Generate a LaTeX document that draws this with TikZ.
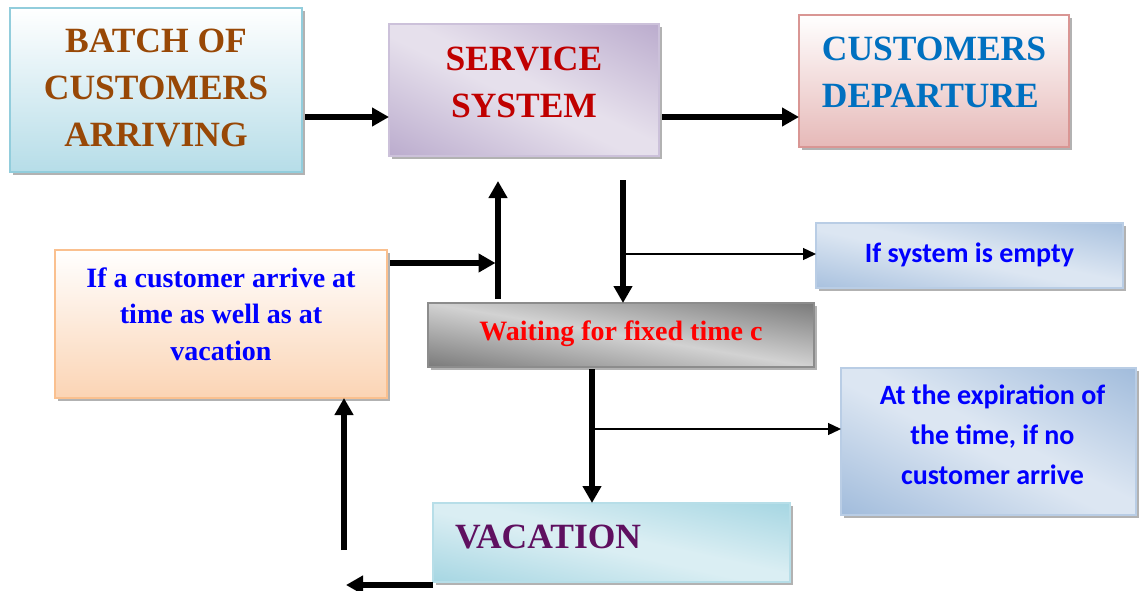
\documentclass[tikz,border=0pt]{standalone}
\usepackage{fontspec}
\setmainfont{Liberation Serif}
\newfontfamily\calib{Carlito}
\usetikzlibrary{arrows.meta,shadows,calc}

% fills, borders and text colours
\definecolor{batchedge}{HTML}{92CDDC}
\definecolor{batchfill}{HTML}{B6DDE8}
\definecolor{batchtext}{HTML}{984806}
\definecolor{svcedge}{HTML}{CCC1DA}
\definecolor{svcdark}{HTML}{B2A1C7}
\definecolor{svclight}{HTML}{E6E0EC}
\definecolor{svctext}{HTML}{C00000}
\definecolor{depedge}{HTML}{D99694}
\definecolor{depfill}{HTML}{E6B9B8}
\definecolor{deptext}{HTML}{0070C0}
\definecolor{condedge}{HTML}{FAC08F}
\definecolor{condfill}{HTML}{FBD4B4}
\definecolor{waitedge}{HTML}{8C8C8C}
\definecolor{waitdark}{HTML}{646464}
\definecolor{waitlight}{HTML}{D2D2D2}
\definecolor{noteedge}{HTML}{B9CDE5}
\definecolor{notedark}{HTML}{95B3D7}
\definecolor{notelight}{HTML}{DCE6F2}
\definecolor{vacedge}{HTML}{B7DEE8}
\definecolor{vacdark}{HTML}{92CDDC}
\definecolor{vaclight}{HTML}{DAEEF3}
\definecolor{vactext}{HTML}{5F1060}
\definecolor{plainblue}{HTML}{0000FF}

% diagonal "dark - light - dark" fills: dark in the lower-left and
% upper-right corners, light along the other diagonal
\pgfdeclarehorizontalshading{svcshade}{100bp}{color(0bp)=(svcdark); color(10bp)=(svcdark); color(47bp)=(svclight); color(53bp)=(svclight); color(90bp)=(svcdark); color(100bp)=(svcdark)}
\pgfdeclarehorizontalshading{waitshade}{100bp}{color(0bp)=(waitdark); color(14bp)=(waitdark); color(50bp)=(waitlight); color(86bp)=(waitdark); color(100bp)=(waitdark)}
\pgfdeclarehorizontalshading{noteshade}{100bp}{color(0bp)=(notedark); color(10bp)=(notedark); color(47bp)=(notelight); color(53bp)=(notelight); color(90bp)=(notedark); color(100bp)=(notedark)}
\pgfdeclarehorizontalshading{vacshade}{100bp}{color(0bp)=(vacdark); color(10bp)=(vacdark); color(47bp)=(vaclight); color(53bp)=(vaclight); color(90bp)=(vacdark); color(100bp)=(vacdark)}

\tikzset{
  box/.style={draw, line width=1.6pt, inner sep=0pt, outer sep=0pt,
    drop shadow={shadow xshift=3pt, shadow yshift=-3pt, fill=black, opacity=0.3}},
  bigserif/.style={font=\bfseries\fontsize{35.5}{47}\selectfont},
  smallserif/.style={font=\bfseries\fontsize{28}{36.5}\selectfont},
  sansnote/.style={font=\calib\bfseries\fontsize{28}{40}\selectfont, text=plainblue},
  bigarrow/.style={line width=5.5pt, -{Triangle[length=17pt,width=18pt]}},
  thinarrow/.style={line width=1.3pt, -{Triangle[length=13pt,width=12pt]}},
}

\begin{document}
\begin{tikzpicture}[x=1pt,y=-1pt]
\useasboundingbox (0,0) rectangle (1140,591);
\fill[white] (0,0) rectangle (1140,591);

% boxes
\node[box, bigserif, draw=batchedge, top color=white, bottom color=batchfill,
  text=batchtext, align=center, text depth=5pt,
  minimum width=292pt, minimum height=164pt] (batch) at (156,90)
  {BATCH OF\\CUSTOMERS\\ARRIVING};

\node[box, bigserif, draw=svcedge, shading=svcshade, shading angle=63.95,
  text=svctext, align=center, text depth=16pt,
  minimum width=270pt, minimum height=132pt] (svc) at (524,90)
  {SERVICE\\SYSTEM};

\node[box, bigserif, draw=depedge, top color=white, bottom color=depfill,
  text=deptext, align=left, text depth=18pt,
  minimum width=270pt, minimum height=132pt] (dep) at (934,81)
  {CUSTOMERS\\DEPARTURE};

\node[box, smallserif, draw=condedge, top color=white, bottom color=condfill,
  text=plainblue, align=center, text depth=20pt,
  minimum width=332pt, minimum height=148pt] (cond) at (221,324)
  {If a customer arrive at\\time as well as at\\vacation};

\node[box, smallserif, draw=waitedge, shading=waitshade, shading angle=80.6,
  text=red, text depth=9pt,
  minimum width=386pt, minimum height=64pt] (wait) at (621,335)
  {Waiting for fixed time c};

\node[box, sansnote, draw=noteedge, shading=noteshade, shading angle=78.05,
  text depth=5pt,
  minimum width=307pt, minimum height=65pt] (empty) at (969.5,255.5)
  {If system is empty};

\node[box, sansnote, draw=noteedge, shading=noteshade, shading angle=63.5,
  align=center, text depth=13pt,
  minimum width=295pt, minimum height=147pt] (expir) at (988.5,441.5)
  {\hspace*{8pt}At the expiration of\\\hspace*{8pt}the time, if no\\\hspace*{8pt}customer arrive};

\node[box, bigserif, draw=vacedge, shading=vacshade, shading angle=77.5,
  text=vactext, text width=313pt, align=left, inner xsep=22pt, text depth=12pt,
  minimum width=357pt, minimum height=79pt] (vac) at (611.5,542.5)
  {VACATION};

% guide rows and columns for the connectors
\coordinate (rowmain) at (0,117);
\coordinate (rowcond) at (0,263);
\coordinate (rowempty) at (0,254);
\coordinate (rowexpir) at (0,429);
\coordinate (rowvac) at (0,585);
\coordinate (colup) at (498,0);
\coordinate (coldown) at (623,0);
\coordinate (colvac) at (592,0);
\coordinate (colback) at (344,0);
\coordinate (backend) at (346,585);
\coordinate (backstart) at (344,550);

% main flow
\draw[bigarrow, shorten <=3pt] (batch.east |- rowmain) -- (svc.west |- rowmain);
\draw[bigarrow, shorten <=3pt] (svc.east |- rowmain) -- (dep.west |- rowmain);

% feedback into the service system
\draw[bigarrow, shorten <=4pt, shorten >=25pt] (wait.north -| colup) -- (svc.south -| colup);
\draw[bigarrow, shorten <=3pt, shorten >=2.5pt] (cond.east |- rowcond) -- (colup |- rowcond);

% service system to waiting
\draw[bigarrow, shorten <=24pt] (svc.south -| coldown) -- (wait.north -| coldown);
\draw[thinarrow] (coldown |- rowempty) -- (empty.west |- rowempty);

% waiting to vacation
\draw[bigarrow, shorten <=2pt] (wait.south -| colvac) -- (vac.north -| colvac);
\draw[thinarrow] (colvac |- rowexpir) -- (expir.west |- rowexpir);

% vacation back to the arrival condition
\draw[bigarrow] (vac.west |- rowvac) -- (backend);
\draw[bigarrow] (backstart) -- (cond.south -| colback);
\end{tikzpicture}
\end{document}
